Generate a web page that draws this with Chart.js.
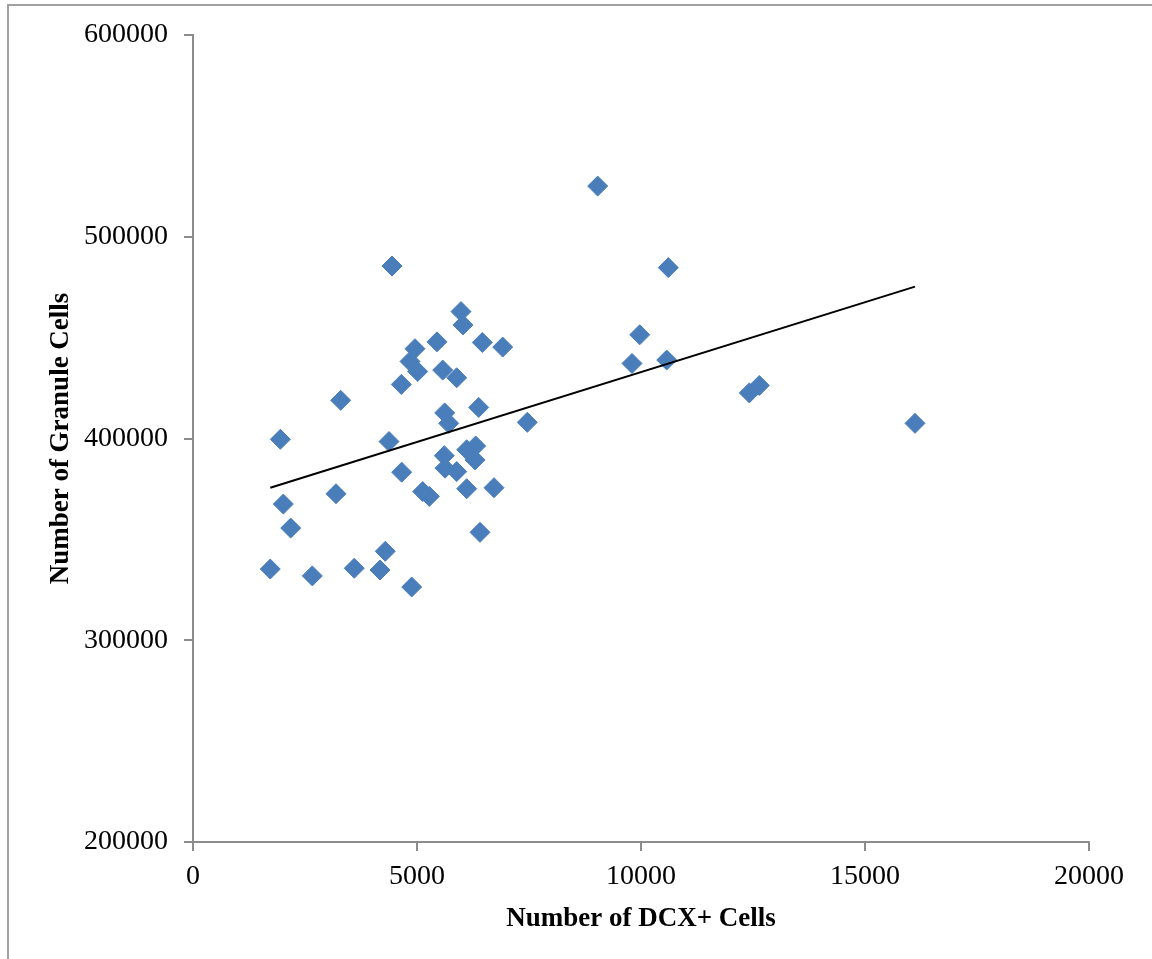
<!DOCTYPE html>
<html>
<head>
<meta charset="utf-8">
<script src="https://cdn.jsdelivr.net/npm/chart.js@4"></script>
<style>
  html, body { margin: 0; padding: 0; background: #fff; overflow: hidden; }
  #frame { position: absolute; left: 7px; top: 4px; width: 1300px; height: 1100px; border: 2px solid #a0a0a0; box-sizing: border-box; }
  #wrap { position: absolute; left: 0; top: 0; width: 1152px; height: 959px; }
</style>
</head>
<body>
<div id="frame"></div>
<div id="wrap"><canvas id="chart"></canvas></div>
<script>
// DCX+ cells vs granule cells
const dcxCells = [
  1950, 2016, 2181, 1725, 2663, 3192, 3297, 3600, 4174, 4292,
  4375, 4442, 4650, 4658, 4844, 4882, 4955, 5016, 5127, 5275,
  5446, 5574, 5618, 5708, 5609, 5625, 5886, 5886, 5982, 6027,
  6109, 6109, 6310, 6295, 6377, 6406, 6458, 6719, 6913, 7462,
  9033, 9799, 9971, 10574, 10609, 12417, 12641, 16116
];
const granuleCells = [
  399600, 367500, 355600, 335300, 331900, 372600, 418900, 335700, 334800, 344100,
  398500, 485500, 426800, 383300, 438200, 326400, 444500, 433200, 373700, 371300,
  447900, 433900, 412700, 407500, 391500, 385300, 430100, 383600, 462900, 456300,
  394400, 375100, 396300, 389400, 415400, 353500, 447600, 375600, 445300, 408000,
  525100, 437200, 451400, 438900, 484700, 422600, 426300, 407500
];
// linear trendline end points
const trendX = [1725, 16116];
const trendY = [375600, 475300];

const xTicks = [0, 5000, 10000, 15000, 20000];
const yTicks = [200000, 300000, 400000, 500000, 600000];

const points = dcxCells.map((x, i) => ({ x: x, y: granuleCells[i] }));
const trend = trendX.map((x, i) => ({ x: x, y: trendY[i] }));

const axisGray = '#8c8c8c';
const tickFont = { family: '"Liberation Serif", serif', size: 28 };
const titleFont = { family: '"Liberation Serif", serif', size: 27, weight: 'bold' };

new Chart(document.getElementById('chart'), {
  type: 'scatter',
  data: {
    datasets: [
      {
        label: 'Granule Cells',
        data: points,
        pointStyle: 'rectRot',
        pointRadius: 10,
        backgroundColor: '#4a7ebb',
        borderColor: '#4a7ebb',
        borderWidth: 1,
        order: 1
      },
      {
        label: 'Linear',
        type: 'line',
        data: trend,
        borderColor: '#000',
        borderWidth: 2,
        pointRadius: 0,
        fill: false,
        order: 0
      }
    ]
  },
  options: {
    responsive: true,
    maintainAspectRatio: false,
    animation: false,
    layout: { padding: { left: 45, top: 35, right: 63, bottom: 20 } },
    plugins: {
      legend: { display: false },
      tooltip: { enabled: false }
    },
    scales: {
      x: {
        type: 'linear',
        min: 0,
        max: 20000,
        afterBuildTicks: s => { s.ticks = xTicks.map(v => ({ value: v })); },
        afterFit: s => { s.height = 959 - 842 - 20; },
        grid: { drawOnChartArea: false, tickLength: 9, color: axisGray, lineWidth: 2 },
        border: { color: axisGray, width: 2 },
        ticks: { color: '#000', font: tickFont, padding: 9, maxRotation: 0, callback: v => String(v) },
        title: { display: true, text: 'Number of DCX+ Cells', color: '#000', font: titleFont, padding: { top: 0 } }
      },
      y: {
        type: 'linear',
        min: 200000,
        max: 600000,
        afterBuildTicks: s => { s.ticks = yTicks.map(v => ({ value: v })); },
        afterFit: s => { s.width = 193 - 45; },
        grid: { drawOnChartArea: false, tickLength: 9, color: axisGray, lineWidth: 2 },
        border: { color: axisGray, width: 2 },
        ticks: { color: '#000', font: tickFont, padding: 16, callback: v => String(v) },
        title: { display: true, text: 'Number of Granule Cells', color: '#000', font: titleFont, padding: 0 }
      }
    }
  }
});
</script>
</body>
</html>
